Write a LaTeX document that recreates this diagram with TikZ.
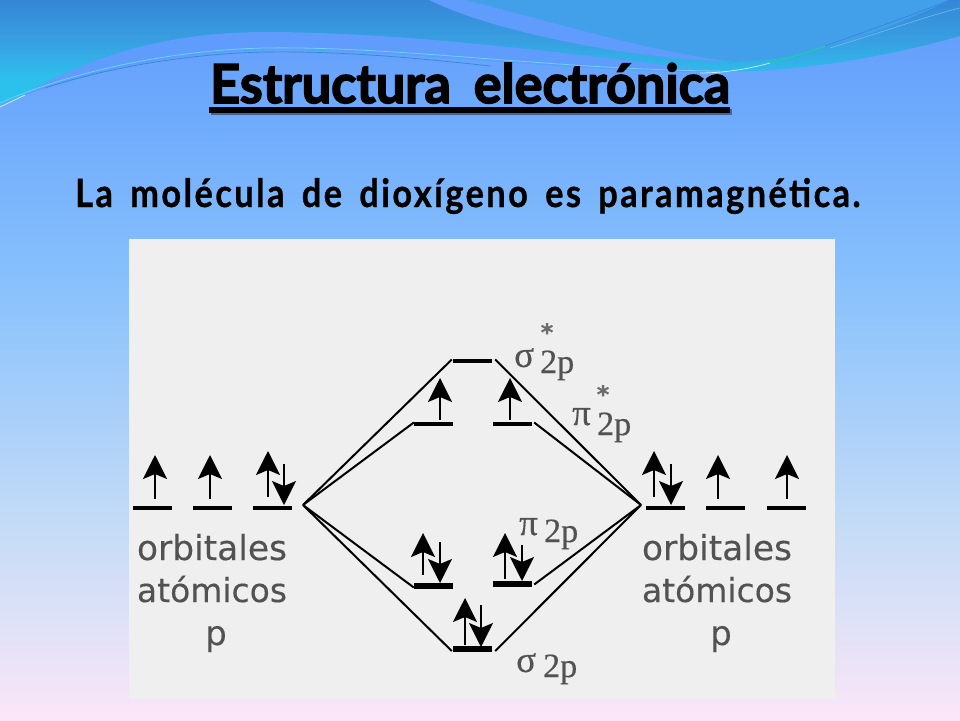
\documentclass[tikz,border=0pt]{standalone}
\usepackage{fontspec}
\usepackage{graphicx}
\usetikzlibrary{arrows.meta,calc}
\setmainfont{Lato}
\newfontfamily\lblsans[FakeBold=0.3]{DejaVu Sans}
\newfontfamily\lblserif[FakeBold=0.3]{Liberation Serif}
\newfontfamily\titlefont[FakeBold=2.8,WordSpace=1.8]{Lato Bold}
\newfontfamily\subfont[FakeBold=0.8,LetterSpace=7,WordSpace=1.6]{Lato Bold}
\definecolor{lbl}{gray}{0.32}
\definecolor{panel}{HTML}{EFEFEF}
\definecolor{c0}{HTML}{FBE6F8}
\definecolor{c1}{HTML}{C6DCF6}
\definecolor{c2}{HTML}{86C0FC}
\definecolor{c3}{HTML}{6CA8FC}
\definecolor{c4}{HTML}{609CFC}
\pgfdeclareverticalshading{pagebg}{100bp}{
 color(0bp)=(c0);color(25bp)=(c0);color(38bp)=(c1);color(56bp)=(c2);color(68bp)=(c3);color(75bp)=(c4);color(100bp)=(c4)}
\definecolor{t0}{HTML}{2CC0EC}
\definecolor{t1}{HTML}{38A0E2}
\definecolor{t2}{HTML}{3587D6}
\definecolor{ur}{HTML}{42A0EA}
\pgfdeclareverticalshading{topband}{100bp}{
 color(0bp)=(t0);color(38bp)=(t0);color(55bp)=(t1);color(75bp)=(t2);color(100bp)=(t2)}
\tikzset{
 x=1pt,y=-1pt,
 lvl/.style={fill=black,inner sep=0pt,minimum height=4pt,draw=none},
 lw1/.style={lvl,minimum width=39pt},
 lnk/.style={draw=black,line width=2pt},
 spin/.style={draw=black,line width=1.6pt,-{Stealth[length=24pt,width=24pt,inset=5pt]}},
 tsans/.style={text=lbl,font=\lblsans\fontsize{34}{34}\selectfont,anchor=base,inner sep=0pt},
 tser/.style={text=lbl,font=\lblserif\fontsize{34}{34}\selectfont,anchor=base west,inner sep=0pt},
 tgreek/.style={tser,font=\lblserif\fontsize{37}{37}\selectfont},
 star/.style={text=lbl!85,font=\lblsans\bfseries\fontsize{24}{24}\selectfont,inner sep=0pt},
 head/.style={anchor=base west,inner sep=0pt,text=black}
}
\newcommand{\spinarrow}[3]{\draw[spin] (#1,#2) -- (#1,#3);}
\newcommand{\fitw}[1]{\resizebox{150pt}{!}{#1}}
\begin{document}
\begin{tikzpicture}
\useasboundingbox (0,0) rectangle (960,720);
\shade[shading=pagebg] (0,0) rectangle (960,720);
% top band
\shade[shading=topband] (0,0) -- (960,0) -- (960,36)
  .. controls (890,56) and (800,72) .. (720,72)
  .. controls (560,72) and (400,48) .. (265,50)
  .. controls (170,52) and (70,75) .. (0,105) -- cycle;
% light swoosh on the left
\fill[c4] (22,96) .. controls (90,55) and (170,32) .. (265,32)
  .. controls (400,32) and (560,52) .. (720,72)
  .. controls (560,72) and (400,48) .. (265,50)
  .. controls (170,52) and (95,72) .. (22,96) -- cycle;
% upper-right area and swoosh
\fill[ur] (465,0) -- (950,0) .. controls (890,28) and (820,58) .. (733,62)
  .. controls (640,50) and (540,18) .. (465,0) -- cycle;
\fill[c4] (429,0) .. controls (490,30) and (620,58) .. (733,62)
  .. controls (640,50) and (540,18) .. (465,0) -- cycle;
% thin lines
\draw[t0!70!white,line width=.8pt] (0,103) .. controls (70,72) and (170,50) .. (265,48)
  .. controls (400,46) and (560,70) .. (720,71);
\draw[t2,line width=.7pt] (45,88) .. controls (100,70) and (180,54) .. (265,52)
  .. controls (330,51) and (400,56) .. (490,66);
\draw[white,opacity=.7,line width=.8pt] (0,107) -- (25,95);
\draw[white,opacity=.7,line width=.8pt] (700,73) .. controls (720,73) and (745,70) .. (770,63);
\draw[t0!60!green,line width=.7pt] (770,63) .. controls (790,57) and (810,52) .. (825,46);
\draw[t2,line width=.7pt] (825,46) .. controls (870,30) and (920,12) .. (950,0);
\draw[t1!70!white,line width=.6pt] (830,48) .. controls (880,33) and (930,15) .. (960,8);
% title
\fill[black,opacity=.4] (211,109) rectangle (732,115);
\node[head] (title) at (210,103) {\resizebox{520pt}{40pt}{\titlefont Estructura electrónica}};
\fill[black] (209,107) rectangle (730,112.5);
\node[head] (sub) at (75,207) {\resizebox{785pt}{29pt}{\subfont La molécula de dioxígeno es paramagnética.}};
% panel
\fill[panel] (129,239) rectangle (835,699);
% levels
\node[lw1] (a1) at (152.5,507.5) {};
\node[lw1] (a2) at (212.5,507.5) {};
\node[lw1] (a3) at (272.5,507.5) {};
\node[lw1] (b1) at (665,507.5) {};
\node[lw1] (b2) at (725.5,507.5) {};
\node[lw1] (b3) at (786,507.5) {};
\node[lw1] (ss) at (472.5,360.5) {};
\node[lw1] (pl) at (433.5,423.5) {};
\node[lw1] (pr) at (512.5,423.5) {};
\node[lw1,minimum height=6pt] (ql) at (433.5,585.5) {};
\node[lw1,minimum height=6pt] (qr) at (512.5,583.5) {};
\node[lw1,minimum height=6pt] (sb) at (472.5,649) {};
% connectors
\coordinate (apexL) at (303,505);
\coordinate (apexR) at (641,505);
\draw[lnk] (apexL) -- ([xshift=-1pt,yshift=1pt]ss.west);
\draw[lnk] (apexL) -- ([yshift=1pt]pl.west);
\draw[lnk] (apexL) -- ([yshift=-2pt]ql.west);
\draw[lnk] (apexL) -- ([xshift=-1pt,yshift=-2pt]sb.west);
\draw[lnk] (apexR) -- ([xshift=3pt,yshift=1pt]ss.east);
\draw[lnk] (apexR) -- ([xshift=2pt,yshift=1pt]pr.east);
\draw[lnk] (apexR) -- ([xshift=2pt,yshift=-1pt]qr.east);
\draw[lnk] (apexR) -- ([xshift=3pt,yshift=-2pt]sb.east);
% electrons
\spinarrow{155}{499}{455}
\spinarrow{210}{499}{455}
\spinarrow{268}{497}{451}
\spinarrow{284}{464}{505}
\spinarrow{440}{420}{378}
\spinarrow{510}{420}{378}
\spinarrow{423}{575}{533}
\spinarrow{440}{542}{583}
\spinarrow{505}{579}{533}
\spinarrow{522}{545}{581}
\spinarrow{465}{645}{598}
\spinarrow{481}{605}{647}
\spinarrow{654}{497}{451}
\spinarrow{671}{464}{505}
\spinarrow{718}{499}{455}
\spinarrow{787}{499}{455}
% labels
\node[tsans] (o1) at (212,560) {\fitw{orbitales}};
\node[tsans] (o2) at (212,602) {\fitw{atómicos}};
\node[tsans] (o3) at (216,645) {p};
\node[tsans] (o4) at (717,560) {\fitw{orbitales}};
\node[tsans] (o5) at (717,602) {\fitw{atómicos}};
\node[tsans] (o6) at (721,645) {p};
\node[tgreek] (s1) at (514,367) {σ};
\node[tser] (s1b) at (540,373) {2p};
\node[star] (s1c) at (547,332) {*};
\node[tgreek] (p1) at (572,425) {π};
\node[tser] (p1b) at (597,435) {2p};
\node[star] (p1c) at (603,394) {*};
\node[tgreek] (p2) at (519,535) {π};
\node[tser] (p2b) at (544,542) {2p};
\node[tgreek] (s2) at (516,672) {σ};
\node[tser] (s2b) at (543,677) {2p};
\end{tikzpicture}
\end{document}
